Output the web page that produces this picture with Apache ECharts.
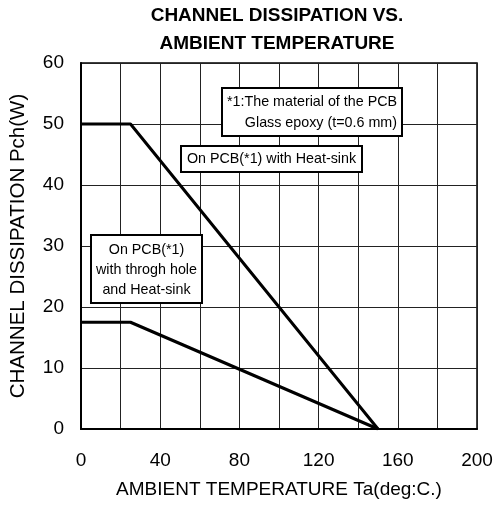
<!DOCTYPE html>
<html><head><meta charset="utf-8">
<script src="https://cdn.jsdelivr.net/npm/echarts@6/dist/echarts.min.js"></script>
<style>html,body{margin:0;padding:0;background:#fff}#c{width:496px;height:507px}</style>
</head><body><div id="c"></div>
<script>
const titleLines = ['CHANNEL DISSIPATION VS.', 'AMBIENT TEMPERATURE'];
const xName = 'AMBIENT TEMPERATURE Ta(deg:C.)';
const yName = 'CHANNEL DISSIPATION Pch(W)';
const xTickLabels = [0, 40, 80, 120, 160, 200];
const yTickLabels = [0, 10, 20, 30, 40, 50, 60];
const heatSinkTemp = [0, 25, 150];
const heatSinkPower = [50, 50, 0];
const throughHoleTemp = [0, 25, 150];
const throughHolePower = [17.5, 17.5, 0];
const noteMaterial = ['*1:The material of the PCB', 'Glass epoxy (t=0.6 mm)'];
const noteHeatSink = ['On PCB(*1) with Heat-sink'];
const noteThroughHole = ['On PCB(*1)', 'with throgh hole', 'and Heat-sink'];

const FONT = '"Liberation Sans", Arial, sans-serif';
const chart = echarts.init(document.getElementById('c'), null, {renderer: 'canvas'});

function box(x, y, w, h) {
  return {type: 'rect', z: 100, shape: {x: x, y: y, width: w, height: h},
    style: {fill: '#fff', stroke: '#000', lineWidth: 2}};
}
function txt(s, x, y, align) {
  return {type: 'text', z: 101, x: x, y: y,
    style: {text: s, font: '14.3px ' + FONT, fill: '#000', align: align || 'center', verticalAlign: 'middle'}};
}

chart.setOption({
  animation: false,
  backgroundColor: '#fff',
  title: {
    text: titleLines.join('\n'),
    left: 277, top: 2, textAlign: 'center', padding: 0,
    textStyle: {fontFamily: FONT, fontWeight: 'bold', fontSize: 19, lineHeight: 28, color: '#000'}
  },
  grid: {left: 81, right: 19, top: 63, bottom: 78, show: true, borderColor: '#000', borderWidth: 1.5, containLabel: false},
  xAxis: {
    type: 'value', min: 0, max: 200, interval: 20,
    name: xName, nameLocation: 'middle', nameGap: 51,
    nameTextStyle: {fontFamily: FONT, fontSize: 19, color: '#000'},
    axisLine: {show: true, lineStyle: {color: '#000', width: 2}},
    axisTick: {show: false},
    axisLabel: {margin: 22, fontFamily: FONT, fontSize: 19, color: '#000',
      formatter: v => xTickLabels.includes(v) ? String(v) : ''},
    splitLine: {show: true, lineStyle: {color: '#222', width: 1}}
  },
  yAxis: {
    type: 'value', min: 0, max: 60, interval: 10,
    name: yName, nameLocation: 'middle', nameGap: 52,
    nameTextStyle: {fontFamily: FONT, fontSize: 20.5, color: '#000'},
    axisLine: {show: true, lineStyle: {color: '#000', width: 2}},
    axisTick: {show: false},
    axisLabel: {margin: 17, fontFamily: FONT, fontSize: 19, color: '#000',
      formatter: v => yTickLabels.includes(v) ? String(v) : ''},
    splitLine: {show: true, lineStyle: {color: '#222', width: 1}}
  },
  series: [
    {type: 'line', data: heatSinkTemp.map((t, i) => [t, heatSinkPower[i]]), showSymbol: false, symbol: 'none',
      lineStyle: {color: '#000', width: 3}, z: 5},
    {type: 'line', data: throughHoleTemp.map((t, i) => [t, throughHolePower[i]]), showSymbol: false, symbol: 'none',
      lineStyle: {color: '#000', width: 3}, z: 5}
  ],
  graphic: [
    box(222, 88, 180, 48),
    txt(noteMaterial[0], 227, 102, 'left'),
    txt(noteMaterial[1], 397, 123, 'right'),
    box(181, 146, 181, 26),
    txt(noteHeatSink[0], 271.5, 159),
    box(91, 235, 111, 68),
    txt(noteThroughHole[0], 146.5, 250),
    txt(noteThroughHole[1], 146.5, 270),
    txt(noteThroughHole[2], 146.5, 290)
  ]
});
</script></body></html>
